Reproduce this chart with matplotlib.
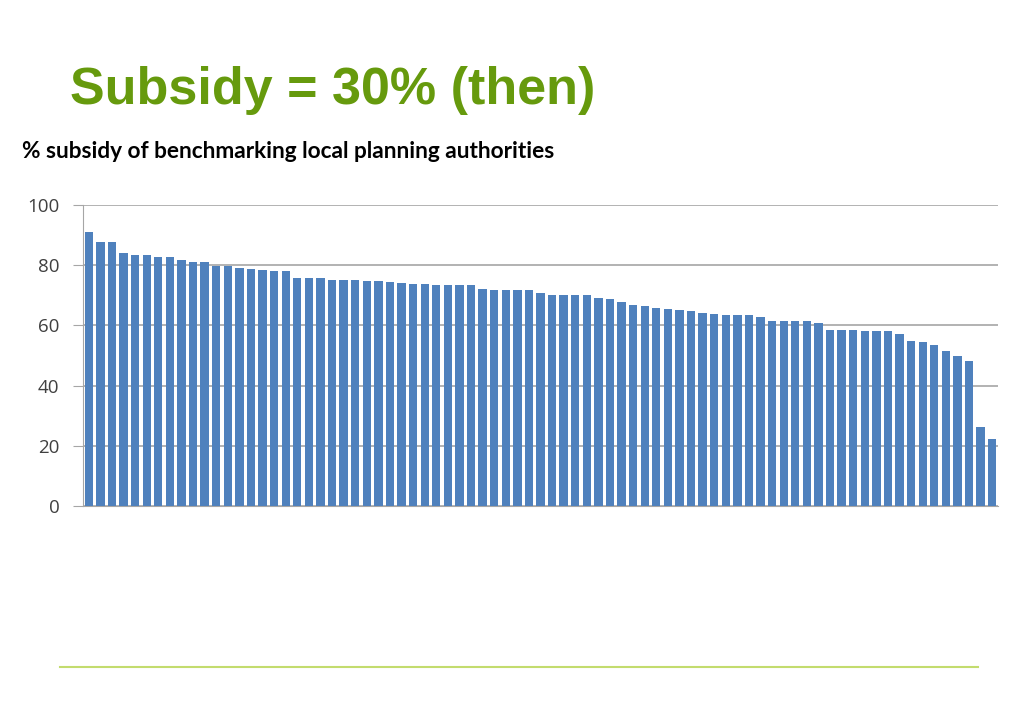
import numpy as np
import matplotlib.pyplot as plt
from matplotlib.lines import Line2D

# subsidy % per benchmarking local planning authority (sorted)
subsidy = [
    90.9, 87.7, 87.7, 84.1, 83.4, 83.4, 82.7, 82.7, 81.6, 80.9,
    80.9, 79.8, 79.6, 79.1, 78.8, 78.4, 78.1, 78.1, 75.9, 75.6,
    75.6, 75.2, 75.2, 75.2, 74.9, 74.6, 74.3, 74.0, 73.7, 73.7,
    73.3, 73.3, 73.3, 73.3, 72.2, 71.9, 71.9, 71.6, 71.6, 70.8,
    70.1, 70.1, 70.1, 70.1, 69.1, 68.7, 67.9, 66.9, 66.4, 65.8,
    65.4, 65.1, 64.9, 64.2, 63.9, 63.6, 63.6, 63.6, 62.8, 61.3,
    61.3, 61.3, 61.3, 60.9, 58.6, 58.6, 58.6, 58.2, 58.2, 58.2,
    57.1, 54.9, 54.6, 53.6, 51.5, 49.9, 48.3, 26.3, 22.3,
]
yticks = [0, 20, 40, 60, 80, 100]

title = "Subsidy = 30% (then)"
subtitle = "% subsidy of benchmarking local planning authorities"

W, H = 1024, 709
fig = plt.figure(figsize=(W / 100, H / 100), dpi=100)

ax = fig.add_axes([83 / W, (H - 506) / H, 915 / W, 301 / H])
x = np.arange(len(subsidy))
ax.bar(x, subsidy, width=0.72, color="#4f81bd", zorder=3)
ax.set_xlim(-0.5, len(subsidy) - 0.5)
ax.set_ylim(0, 100)
ax.set_yticks(yticks)
ax.set_yticklabels([str(t) for t in yticks], fontsize=13.5, color="#404040",
                   family=["Open Sans", "DejaVu Sans"])
ax.set_xticks([])
ax.grid(axis="y", color="#a6a6a6", linewidth=1.2, zorder=0)
for s in ["top", "right"]:
    ax.spines[s].set_visible(False)
ax.spines["left"].set_color("#a6a6a6")
ax.spines["bottom"].set_color("#a6a6a6")
ax.tick_params(axis="y", length=7, color="#a6a6a6", pad=10)

fig.text(70 / W, 1 - 104 / H, title, fontsize=37.5, fontweight="bold",
         color="#669a0d", va="baseline", ha="left",
         family=["Liberation Sans", "DejaVu Sans"])
fig.text(22 / W, 1 - 158 / H, subtitle, fontsize=16.3, fontweight="bold",
         color="#000000", va="baseline", ha="left",
         family=["Lato", "DejaVu Sans"])

fig.add_artist(Line2D([60 / W, 978 / W], [1 - 667 / H, 1 - 667 / H],
                      transform=fig.transFigure, color="#c3dc6e", linewidth=1.5))

fig.savefig("out.png", dpi=100)
